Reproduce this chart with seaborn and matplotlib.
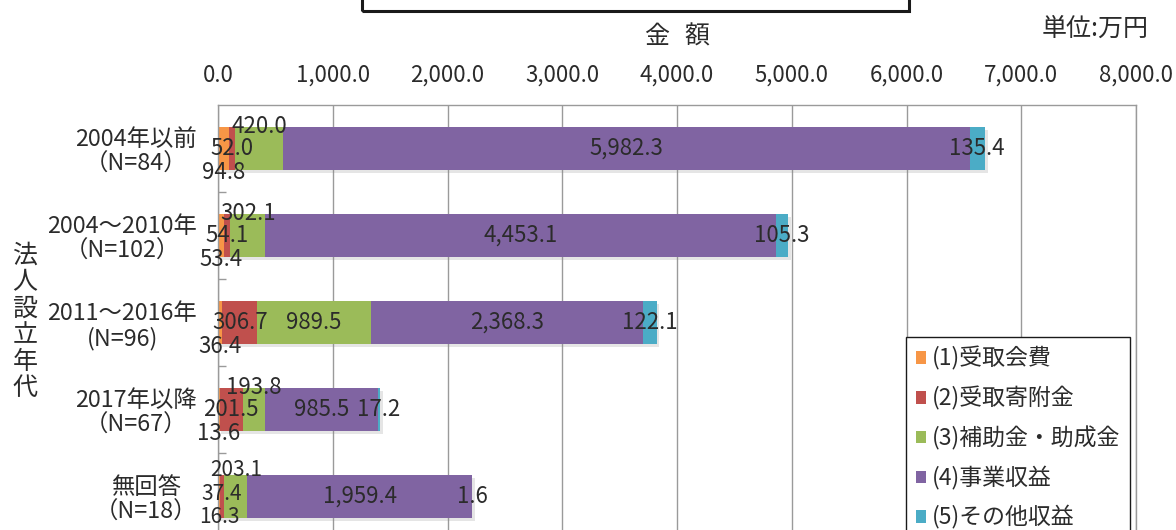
import matplotlib
matplotlib.use("Agg")
import matplotlib.pyplot as plt
import matplotlib.patheffects as pe
from matplotlib.patches import Patch, Rectangle
from matplotlib.ticker import FuncFormatter
import numpy as np
import pandas as pd
import seaborn as sns

# ---- data (単位: 万円) ----
categories = [
    "2004年以前\n（N=84）",
    "2004～2010年\n（N=102）",
    "2011～2016年\n(N=96)",
    "2017年以降\n（N=67）",
    "無回答\n（N=18）",
]
series_names = ["(1)受取会費", "(2)受取寄附金", "(3)補助金・助成金", "(4)事業収益", "(5)その他収益"]
fees = [94.8, 53.4, 36.4, 13.6, 16.3]
donations = [52.0, 54.1, 306.7, 201.5, 37.4]
grants = [420.0, 302.1, 989.5, 193.8, 203.1]
business = [5982.3, 4453.1, 2368.3, 985.5, 1959.4]
other = [135.4, 105.3, 122.1, 17.2, 1.6]
x_ticks = [0, 1000, 2000, 3000, 4000, 5000, 6000, 7000, 8000]

colors = ["#F79646", "#C0504D", "#9BBB59", "#8064A2", "#4BACC6"]
text_col = "#2b2b2b"
grid_col = "#9a9a9a"

sns.set_theme(style="white")
plt.rcParams["font.family"] = ["Noto Sans CJK JP", "DejaVu Sans"]

series = [fees, donations, grants, business, other]
df = pd.DataFrame({"category": categories})
for name, vals in zip(series_names, series):
    df[name] = vals
cum = df[series_names].cumsum(axis=1)

W, H = 1176, 530
fig = plt.figure(figsize=(W / 100, H / 100), dpi=100)
ax = fig.add_axes([218 / W, -10 / H, 918 / W, 435 / H])

# stacked bars: draw cumulative totals from the outermost series inward
for k in range(len(series_names) - 1, -1, -1):
    n_before = len(ax.patches)
    sns.barplot(data=cum.assign(category=categories), x=series_names[k], y="category",
                order=categories, orient="h", color=colors[k], saturation=1,
                width=0.5, linewidth=0, errorbar=None, ax=ax)
    if k == len(series_names) - 1:
        for p in ax.patches[n_before:]:
            p.set_path_effects([pe.SimplePatchShadow(offset=(2, -2), shadow_rgbFace="#8a8a8a", alpha=0.22),
                                pe.Normal()])

ax.set_xlim(0, 8000)
ax.set_ylim(4.5, -0.5)
ax.set_xlabel("")
ax.set_ylabel("")

# x axis on top
ax.xaxis.tick_top()
ax.set_xticks(x_ticks)
ax.xaxis.set_major_formatter(FuncFormatter(lambda v, _: f"{v:,.1f}"))
ax.tick_params(axis="x", length=0, pad=13, labelsize=16, labelcolor=text_col)
ax.grid(axis="x", color=grid_col, linewidth=1)
ax.set_axisbelow(True)

# category labels and boundary ticks
ax.tick_params(axis="y", which="major", length=0, pad=15, labelsize=16.8, labelcolor=text_col)
for lbl in ax.get_yticklabels():
    lbl.set_multialignment("center")
    lbl.set_linespacing(1.12)
ax.set_yticks([0.5, 1.5, 2.5, 3.5], minor=True)
ax.tick_params(axis="y", which="minor", direction="in", length=6, width=1, color=grid_col, left=True)

ax.spines["bottom"].set_visible(False)
for side in ["left", "top", "right"]:
    ax.spines[side].set_color(grid_col)
    ax.spines[side].set_linewidth(1)

# value labels: (1) below the bar, (2) centred, (3) above the bar, (4)(5) centred
dy = [0.28, 0.0, -0.25, 0.0, 0.0]
last = len(categories) - 1
last_row_dy = {0: 0.24, 1: -0.03, 2: -0.31}   # tighter stack at the bottom edge
for j, name in enumerate(series_names):
    starts = cum[name] - df[name]
    for i in range(len(categories)):
        v = df[name].iloc[i]
        off = dy[j]
        size = 16
        if j == 2 and i == 2:
            off = 0.0
        if i == last and j in last_row_dy:
            off = last_row_dy[j]
            size = 15
        ax.text(starts.iloc[i] + v / 2, i + off, f"{v:,.1f}", ha="center", va="center",
                fontsize=size, color=text_col)

# headings
fig.text(657 / W, 1 - 37 / H, "金", ha="center", va="center", fontsize=18, color=text_col)
fig.text(697 / W, 1 - 37 / H, "額", ha="center", va="center", fontsize=18, color=text_col)
fig.text(1095 / W, 1 - 29 / H, "単位:万円", ha="center", va="center", fontsize=18, color=text_col)
fig.text(25 / W, 1 - 322 / H, "法\n人\n設\n立\n年\n代", ha="center", va="center",
         fontsize=18, color=text_col, linespacing=1.02)

# framed title box (upper part lies outside the canvas)
fig.add_artist(Rectangle((362 / W, 1 - 11 / H), (909 - 362) / W, 0.2, transform=fig.transFigure,
                         facecolor="none", edgecolor="#1a1a1a", linewidth=2.2))

# legend
handles = [Patch(facecolor=c, edgecolor="none") for c in colors]
leg = fig.legend(handles, series_names, loc="upper left", bbox_to_anchor=(906 / W, 1 - 337 / H),
                 frameon=True, fancybox=False, edgecolor="#1a1a1a", framealpha=1,
                 handlelength=0.45, handleheight=0.45, handletextpad=0.25,
                 labelspacing=0.68, borderpad=0.42, borderaxespad=0, fontsize=16.5)
leg.get_frame().set_linewidth(1)
for t in leg.get_texts():
    t.set_color(text_col)

fig.savefig("out.png", dpi=100)
